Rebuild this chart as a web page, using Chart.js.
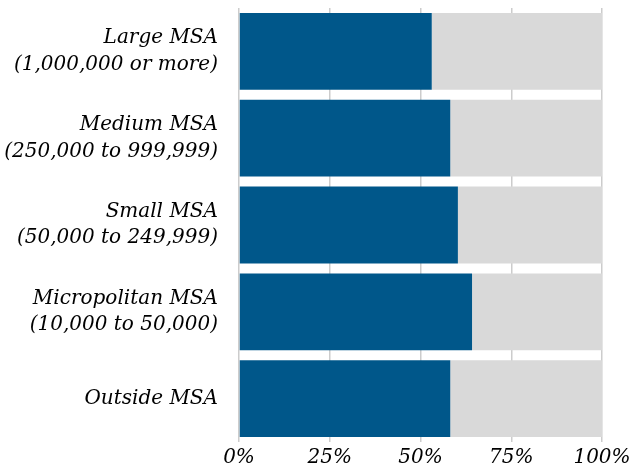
<!DOCTYPE html>
<html>
<head>
<meta charset="utf-8">
<script src="https://cdn.jsdelivr.net/npm/chart.js@4"></script>
<style>
  html, body { margin: 0; padding: 0; background: #fff; }
  #wrap { width: 632px; height: 467px; }
</style>
</head>
<body>
<div id="wrap"><canvas id="grafica"></canvas></div>
<script>
const categorias = [
    ['Large MSA', '(1,000,000 or more)'],
    ['Medium MSA', '(250,000 to 999,999)'],
    ['Small MSA', '(50,000 to 249,999)'],
    ['Micropolitan MSA', '(10,000 to 50,000)'],
    'Outside MSA'
];
const valores = [53.1, 58.2, 60.3, 64.2, 58.2];
const ticksX = [0, 25, 50, 75, 100];

const resto = valores.map(v => 100 - v);
const fuente = { family: 'DejaVu Serif', style: 'italic', size: 20, lineHeight: 1.32 };

const ctx = document.getElementById('grafica');
var chart = new Chart(ctx, {
    type: 'bar',
    data: {
        labels: categorias,
        datasets: [{
            data: valores,
            backgroundColor: '#00578a',
            borderWidth: 0,
            barPercentage: 0.885,
            categoryPercentage: 1
        }, {
            data: resto,
            backgroundColor: '#d9d9d9',
            borderWidth: 0,
            barPercentage: 0.885,
            categoryPercentage: 1
        }]
    },
    options: {
        indexAxis: 'y',
        responsive: true,
        maintainAspectRatio: false,
        animation: false,
        layout: { padding: { left: 0, right: 30, top: 8, bottom: 0 } },
        plugins: { legend: { display: false }, tooltip: { enabled: false } },
        scales: {
            x: {
                stacked: true,
                min: 0,
                max: 100,
                afterBuildTicks: s => { s.ticks = ticksX.map(v => ({ value: v })); },
                afterFit: s => { s.height = 25; s.paddingLeft = 0; s.paddingRight = 0; },
                ticks: {
                    callback: v => v + '%',
                    color: '#000',
                    font: fuente,
                    padding: 3,
                    maxRotation: 0
                },
                grid: { color: '#cccccc', lineWidth: 1.5, drawTicks: false },
                border: { display: false }
            },
            y: {
                stacked: true,
                afterFit: s => { s.width = 239; s.paddingTop = 0; s.paddingBottom = 0; },
                ticks: { color: '#000', font: fuente, padding: 13 },
                grid: { display: false },
                border: { display: false }
            }
        }
    }
});
</script>
</body>
</html>
